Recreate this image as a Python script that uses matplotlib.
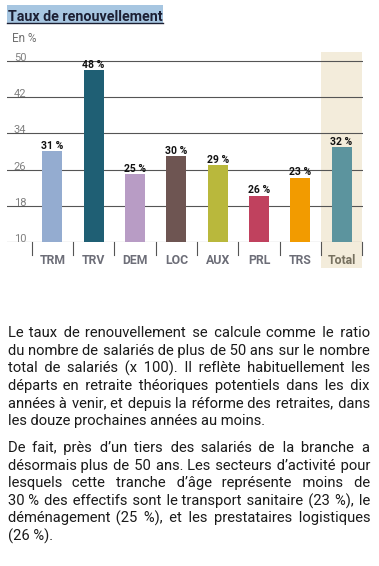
import matplotlib
matplotlib.use("Agg")
import matplotlib.pyplot as plt
import matplotlib.transforms as mtransforms
from matplotlib.patches import Rectangle
from matplotlib.lines import Line2D

# Data
categories = ["TRM", "TRV", "DEM", "LOC", "AUX", "PRL", "TRS", "Total"]
bar_values = [30.1, 48, 25, 29, 27, 20.2, 24.2, 31]
value_labels = ["31 %", "48 %", "25 %", "30 %", "29 %", "26 %", "23 %", "32 %"]
bar_colors = ["#94acd0", "#1f5f74", "#b89cc5", "#6e5552",
              "#b9b83c", "#c0415e", "#f29b00", "#5c949e"]
y_ticks = [10, 18, 26, 34, 42, 50]

paragraph_1 = [
    "Le taux de renouvellement se calcule comme le ratio",
    "du nombre de salariés de plus de 50 ans sur le nombre",
    "total de salariés (x 100). Il reflète habituellement les",
    "départs en retraite théoriques potentiels dans les dix",
    "années à venir, et depuis la réforme des retraites, dans",
    "les douze prochaines années au moins.",
]
paragraph_2 = [
    "De fait, près d’un tiers des salariés de la branche a",
    "désormais plus de 50 ans. Les secteurs d’activité pour",
    "lesquels cette tranche d’âge représente moins de",
    "30 % des effectifs sont le transport sanitaire (23 %), le",
    "déménagement (25 %), et les prestataires logistiques",
    "(26 %).",
]

plt.rcParams['font.family'] = ['Roboto', 'DejaVu Sans']

W, H = 379, 566
fig = plt.figure(figsize=(W / 100, H / 100), dpi=100)
renderer = fig.canvas.get_renderer()


def fx(px):
    return px / W


def fy(py):
    return 1 - py / H


# chart area (pixel geometry of the reference)
ax = fig.add_axes([fx(7.3), fy(241.7), (362.7 - 7.3) / W, (241.7 - 52) / H])
ax.set_xlim(-1.09, 7.51)
ax.set_ylim(10, 52.06)
ax.axis('off')

blend_y = mtransforms.blended_transform_factory(ax.transAxes, ax.transData)
blend_x = mtransforms.blended_transform_factory(ax.transData, ax.transAxes)

# beige band behind "Total"
ax.add_patch(Rectangle((6.5, -0.139), 1.0, 1.139, transform=blend_x,
                       facecolor="#f3ecdb", edgecolor="none", zorder=0, clip_on=False))

# grid lines and tick labels
for t in y_ticks:
    ax.axhline(t, color="#555555", lw=0.8, zorder=1)
    ax.text(0.036, t, str(t), transform=blend_y, ha='center', va='baseline',
            fontsize=8, color="#808080", zorder=3)

# bars
x = list(range(len(categories)))
ax.bar(x, bar_values, width=0.48, bottom=0, color=bar_colors, zorder=2)
for xi, v, lab in zip(x, bar_values, value_labels):
    ax.text(xi, v + 0.1, lab, ha='center', va='bottom', fontsize=7.5,
            fontweight='bold', color="#111111", zorder=3)

# separators and category labels below the axis
for k in range(len(categories) + 1):
    b = k - 0.5
    ax.add_line(Line2D([b, b], [0, -0.07], transform=blend_x, color="#555555",
                       lw=0.8, clip_on=False))
for xi, c in zip(x, categories):
    ax.text(xi, -0.1, c, transform=blend_x, ha='center', va='center',
            fontsize=8.8, fontweight='bold',
            color="#76705f" if c == "Total" else "#6d6e78")

# title with highlighted box, font size fitted to the box width
fig.patches.append(Rectangle((fx(7), fy(24)), (163 - 7) / W, 19 / H,
                             transform=fig.transFigure, facecolor="#a7c6e1",
                             edgecolor="none", zorder=0))
fig.lines.append(Line2D([fx(7), fx(163)], [fy(23.3), fy(23.3)],
                        transform=fig.transFigure, color="#1c1f33", lw=1))
title = fig.text(fx(8), fy(21.3), "Taux de renouvellement", fontsize=10,
                 fontweight='bold', color="#1c1f33", va='baseline')
tw = title.get_window_extent(renderer).width
title.set_fontsize(10 * 154 / tw)
fig.text(fx(12), fy(42), "En %", fontsize=8.5, color="#707070", va='baseline')

# justified body text: one text per line, word gaps widened with hair spaces
left, right = 8.3, 370.5
body_kw = dict(fontsize=10.6, color="#1a1a1a", va='baseline')
HAIR = "\u200a"


def text_width(s):
    t = fig.text(0, 0, s, **body_kw)
    w = t.get_window_extent(renderer).width
    t.remove()
    return w


hair_w = text_width("a" + HAIR * 10 + "a") / 10 - text_width("aa") / 10


def justify(line):
    words = line.split(" ")
    gaps = len(words) - 1
    extra = (right - left) - text_width(line)
    n = max(0, int(round(extra / hair_w)))
    out = words[0]
    for k, w in enumerate(words[1:]):
        cnt = n * (k + 1) // gaps - n * k // gaps
        out += " " + HAIR * cnt + w
    return out


def draw_paragraph(lines, y0, step):
    for i, line in enumerate(lines):
        last = i == len(lines) - 1
        s = line if last else justify(line)
        fig.text(fx(left), fy(y0 + i * step), s, **body_kw)


draw_paragraph(paragraph_1, 337, 17.7)
draw_paragraph(paragraph_2, 452, 17.7)

fig.savefig("out.png", dpi=100)
